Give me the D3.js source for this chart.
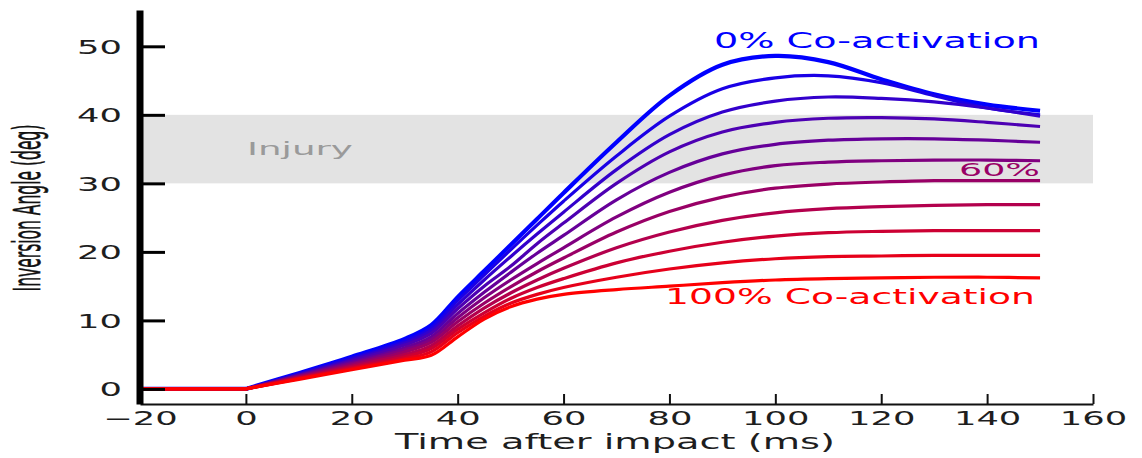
<!DOCTYPE html>
<html>
<head>
<meta charset="utf-8">
<script src="https://cdn.jsdelivr.net/npm/d3@7"></script>
<style>
  html, body { margin: 0; padding: 0; background: #ffffff; }
  svg { display: block; }
  text { font-family: "DejaVu Sans", sans-serif; }
</style>
</head>
<body>
<svg id="chart" width="1142" height="458"></svg>
<script>
// ---------- data ----------
const times = [-20, 0, 10, 20, 30, 35, 40, 45, 50, 55, 60, 70, 80, 90, 100, 110, 120, 130, 140, 150];
const coActivation = [0, 10, 20, 30, 40, 50, 60, 70, 80, 90, 100];
const s0   = [0, 0, 2.3, 4.7, 7.3, 9.3, 13.4, 17.2, 21.0, 24.8, 28.6, 36.0, 42.8, 47.3, 48.6, 47.7, 45.2, 43.0, 41.5, 40.6];
const s10  = [0, 0, 2.2, 4.5, 7.0, 8.9, 12.9, 16.6, 20.3, 23.9, 27.4, 34.0, 39.8, 43.8, 45.4, 45.7, 44.7, 42.8, 41.0, 40.0];
const s20  = [0, 0, 2.1, 4.3, 6.7, 8.5, 12.3, 15.9, 19.3, 22.6, 25.8, 32.0, 37.1, 40.4, 42.0, 42.6, 42.4, 41.9, 41.0, 39.8];
const s30  = [0, 0, 2.0, 4.1, 6.4, 8.1, 11.7, 15.0, 17.9, 21.2, 24.2, 30.0, 34.6, 37.5, 38.9, 39.5, 39.6, 39.4, 38.9, 38.3];
const s40  = [0, 0, 1.95, 3.9, 6.0, 7.6, 11.0, 14.1, 17.0, 19.8, 22.4, 27.6, 31.6, 34.3, 35.7, 36.3, 36.5, 36.5, 36.3, 36.0];
const s50  = [0, 0, 1.85, 3.7, 5.7, 7.2, 10.4, 13.3, 15.9, 18.3, 20.6, 25.1, 28.7, 31.2, 32.6, 33.1, 33.3, 33.4, 33.4, 33.3];
const s60  = [0, 0, 1.75, 3.5, 5.4, 6.8, 9.8, 12.5, 14.9, 17.1, 19.1, 22.9, 25.9, 28.0, 29.3, 29.9, 30.2, 30.4, 30.4, 30.4];
const s70  = [0, 0, 1.65, 3.3, 5.0, 6.3, 9.2, 11.8, 14.0, 15.9, 17.6, 20.6, 22.9, 24.6, 25.7, 26.3, 26.6, 26.8, 26.9, 26.9];
const s80  = [0, 0, 1.55, 3.1, 4.7, 5.9, 8.7, 11.1, 13.2, 14.8, 16.1, 18.4, 20.1, 21.4, 22.3, 22.8, 23.0, 23.1, 23.1, 23.1];
const s90  = [0, 0, 1.5, 2.95, 4.4, 5.4, 8.2, 10.6, 12.5, 13.8, 14.8, 16.3, 17.5, 18.4, 19.0, 19.3, 19.4, 19.5, 19.5, 19.5];
const s100 = [0, 0, 1.4, 2.8, 4.2, 4.9, 7.6, 10.2, 12.0, 13.1, 13.8, 14.5, 15.0, 15.5, 15.9, 16.1, 16.2, 16.3, 16.3, 16.2];
const seriesValues = [s0, s10, s20, s30, s40, s50, s60, s70, s80, s90, s100];

const xTicks = [-20, 0, 20, 40, 60, 80, 100, 120, 140, 160];
const yTicks = [0, 10, 20, 30, 40, 50];
const injuryBand = [30, 40];
const xDomain = [-20, 160];
const yDomain = [-2.2, 55.3];

const xTitle = "Time after impact (ms)";
const yTitle = "Inversion Angle (deg)";
const injuryLabel = "Injury";
const topLabel = "0% Co-activation";
const midLabel = "60%";
const bottomLabel = "100% Co-activation";

// ---------- drawing ----------
const svg = d3.select("#chart");
const x = d3.scaleLinear().domain(xDomain).range([140, 1093]);
const y = d3.scaleLinear().domain(yDomain).range([404, 10]);
const color = d3.interpolateRgb("#0000ff", "#ff0000");
const STRETCH = 1.86;

// injury band
svg.append("rect")
  .attr("x", x(xDomain[0]))
  .attr("width", x(xDomain[1]) - x(xDomain[0]))
  .attr("y", y(injuryBand[1]))
  .attr("height", y(injuryBand[0]) - y(injuryBand[1]))
  .attr("fill", "#e3e3e3");

// fit helper: stretch text horizontally to target width
function placeText(txt, opts) {
  const t = svg.append("text")
    .text(txt)
    .attr("font-size", opts.size)
    .attr("fill", opts.fill)
    .attr("text-anchor", "start");
  const w = t.node().getComputedTextLength();
  const sx = opts.width / w;
  t.attr("transform", `translate(${opts.left},${opts.baseline}) scale(${sx},1)`);
  return t;
}

placeText(injuryLabel, { left: 247, baseline: 155, size: 18, width: 106, fill: "#9a9a9a" });

// lines: flat pre-impact segment drawn straight, response drawn as a smooth curve
const preLine = d3.line()
  .x(d => x(d[0]))
  .y(d => y(d[1]));
const postLine = d3.line()
  .x(d => x(d[0]))
  .y(d => y(d[1]))
  .curve(d3.curveCatmullRom.alpha(0.5));

function seriesPath(vals) {
  const pts = times.map((t, i) => [t, vals[i]]);
  const pre = preLine(pts.slice(0, 2));
  const post = postLine(pts.slice(1));
  return pre + "L" + post.slice(1);
}

svg.append("g")
  .selectAll("path")
  .data(seriesValues)
  .join("path")
  .attr("d", d => seriesPath(d))
  .attr("fill", "none")
  .attr("stroke", (d, i) => color(coActivation[i] / 100))
  .attr("stroke-width", (d, i) => i === 0 ? 4.2 : 3.2)
  .attr("stroke-linejoin", "round")
  .attr("stroke-linecap", "butt");

// series labels
placeText(topLabel, { left: 714, baseline: 48, size: 20.5, width: 326, fill: "#0000ff" });
placeText(midLabel, { left: 959, baseline: 176, size: 18.5, width: 81, fill: color(0.6) });
placeText(bottomLabel, { left: 665, baseline: 304, size: 20.5, width: 370, fill: "#ff0000" });

// x axis
const xAxis = svg.append("g")
  .attr("transform", `translate(0,${y(yDomain[0])})`)
  .call(d3.axisBottom(x).tickValues(xTicks).tickSize(-10).tickSizeOuter(0));
xAxis.select(".domain").attr("stroke", "#111").attr("stroke-width", 2);
xAxis.selectAll(".tick line").attr("stroke", "#111").attr("stroke-width", 2);
xAxis.selectAll(".tick text")
  .attr("y", 0).attr("dy", 0)
  .attr("font-size", 19)
  .attr("font-family", "DejaVu Sans")
  .attr("fill", "#1e1e1e")
  .attr("transform", `translate(0,21) scale(${STRETCH},1)`);

// y axis
const yAxis = svg.append("g")
  .attr("transform", `translate(139.5,0)`)
  .call(d3.axisLeft(y).tickValues(yTicks).tickSize(-25.5).tickSizeOuter(0));
yAxis.select(".domain").attr("stroke", "#000").attr("stroke-width", 7);
yAxis.selectAll(".tick line").attr("stroke", "#000").attr("stroke-width", 3);
yAxis.selectAll(".tick text")
  .attr("x", 0).attr("dy", "0.36em")
  .attr("font-size", 19)
  .attr("font-family", "DejaVu Sans")
  .attr("fill", "#1e1e1e")
  .attr("text-anchor", "end")
  .attr("transform", `translate(-17.5,0) scale(${STRETCH},1)`);

// axis titles
placeText(xTitle, { left: 395, baseline: 449, size: 20.5, width: 440, fill: "#1e1e1e" });

const yt = svg.append("text")
  .text(yTitle)
  .attr("font-family", "'Liberation Sans Narrow', 'Liberation Sans', sans-serif")
  .attr("font-size", 20)
  .attr("fill", "#111")
  .attr("stroke", "#111")
  .attr("stroke-width", 0.25)
  .attr("text-anchor", "middle");
const yLen = yt.node().getComputedTextLength();
const ySize = 20 * 167 / yLen;
yt.attr("font-size", ySize)
  .attr("transform", `translate(40,208) scale(${27 / (0.716 * ySize)},1) rotate(-90)`);
</script>
</body>
</html>
